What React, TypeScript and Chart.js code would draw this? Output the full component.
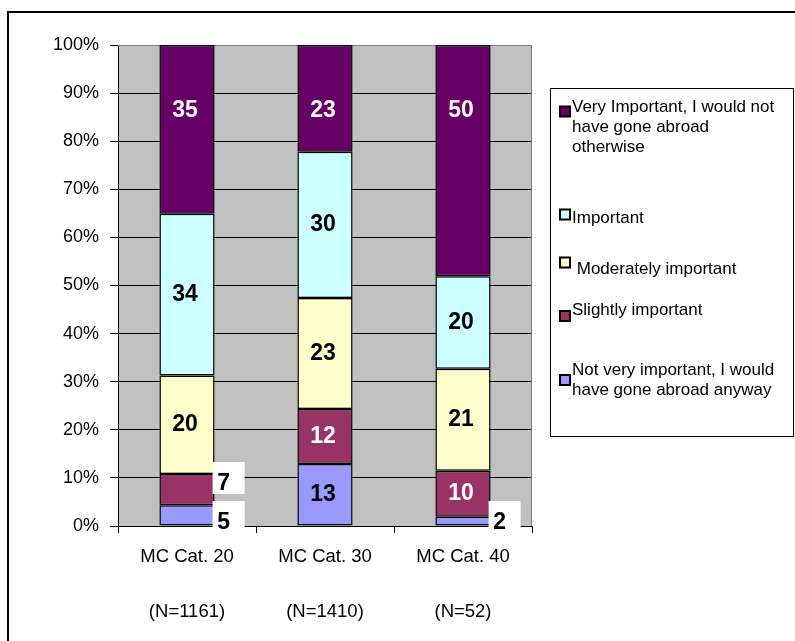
import React, { useEffect, useRef } from 'react';
import { Chart, registerables } from 'chart.js';

Chart.register(...registerables);

// ---------- data ----------
const categories = ['MC Cat. 20', 'MC Cat. 30', 'MC Cat. 40'];
const sampleSizes = ['(N=1161)', '(N=1410)', '(N=52)'];

// series, bottom of stack to top (percent of respondents)
const notVeryImportant = [4.3, 12.9, 1.9];
const slightlyImportant = [6.5, 11.4, 9.6];
const moderatelyImportant = [20.5, 23.1, 21.2];
const important = [33.6, 30.4, 19.2];
const veryImportant = [35.1, 22.2, 48.1];

// data labels as printed on the chart
const notVeryLabels = ['5', '13', '2'];
const slightlyLabels = ['7', '12', '10'];
const moderatelyLabels = ['20', '23', '21'];
const importantLabels = ['34', '30', '20'];
const veryLabels = ['35', '23', '50'];

const yTickValues = [0, 10, 20, 30, 40, 50, 60, 70, 80, 90, 100];

const legendVery = ['Very Important, I would not', 'have gone abroad', 'otherwise'];
const legendImportant = ['Important'];
const legendModerately = [' Moderately important'];
const legendSlightly = ['Slightly important'];
const legendNotVery = ['Not very important, I would', 'have gone abroad anyway'];

// ---------- styles ----------
const FONT = '"Liberation Sans", Arial, Helvetica, sans-serif';
const COLORS = {
  notVery: '#9999FF',
  slightly: '#993366',
  moderately: '#FFFFCC',
  important: '#CCFFFF',
  very: '#660066',
};

const datasetsSpec = [
  { name: 'Not very important, I would have gone abroad anyway', data: notVeryImportant, labels: notVeryLabels, color: COLORS.notVery, textColor: '#000' },
  { name: 'Slightly important', data: slightlyImportant, labels: slightlyLabels, color: COLORS.slightly, textColor: '#fff' },
  { name: 'Moderately important', data: moderatelyImportant, labels: moderatelyLabels, color: COLORS.moderately, textColor: '#000' },
  { name: 'Important', data: important, labels: importantLabels, color: COLORS.important, textColor: '#000' },
  { name: 'Very Important, I would not have gone abroad otherwise', data: veryImportant, labels: veryLabels, color: COLORS.very, textColor: '#fff' },
];

// legend layout (top-to-bottom): marker center y, first text line center y
const legendItems = [
  { lines: legendVery, color: COLORS.very, markerY: 111.5, textY: 107 },
  { lines: legendImportant, color: COLORS.important, markerY: 214.5, textY: 218 },
  { lines: legendModerately, color: COLORS.moderately, markerY: 262.5, textY: 269 },
  { lines: legendSlightly, color: COLORS.slightly, markerY: 316, textY: 310 },
  { lines: legendNotVery, color: COLORS.notVery, markerY: 380, textY: 370 },
];

const decorPlugin = {
  id: 'decor',
  beforeDraw(chart: any) {
    const { ctx, chartArea: a } = chart;
    ctx.save();
    ctx.fillStyle = '#ffffff';
    ctx.fillRect(0, 0, chart.width, chart.height);
    ctx.fillStyle = '#C0C0C0';
    ctx.fillRect(a.left, a.top, a.right - a.left, a.bottom - a.top);
    ctx.restore();
  },
  beforeDatasetsDraw(chart: any) {
    const { ctx, chartArea: a } = chart;
    ctx.save();
    ctx.strokeStyle = '#808080';
    ctx.lineWidth = 1;
    ctx.beginPath();
    ctx.moveTo(a.left, a.top + 0.5);
    ctx.lineTo(a.right - 0.5, a.top + 0.5);
    ctx.lineTo(a.right - 0.5, a.bottom);
    ctx.stroke();
    ctx.restore();
  },
  afterDatasetsDraw(chart: any) {
    const { ctx, chartArea: a } = chart;
    ctx.save();
    ctx.font = `bold 23px ${FONT}`;
    ctx.textAlign = 'center';
    ctx.textBaseline = 'middle';
    const nSets = chart.data.datasets.length;
    const nCats = chart.data.labels.length;
    for (let c = 0; c < nCats; c++) {
      let nextBoxTop = Infinity;
      const outside: any[] = [];
      for (let d = 0; d < nSets; d++) {
        const spec = datasetsSpec[d];
        const el = chart.getDatasetMeta(d).data[c];
        const top = Math.min(el.y, el.base);
        const bottom = Math.max(el.y, el.base);
        const mid = (top + bottom) / 2;
        const value = spec.data[c];
        if (value < 8) {
          outside.push({ el, mid, text: spec.labels[c] });
          continue;
        }
        const y = d === nSets - 1 ? top + 66 : mid;
        ctx.fillStyle = spec.textColor;
        ctx.fillText(spec.labels[c], el.x - 2, y);
      }
      // outside labels in white boxes to the right of the bar
      outside.sort((p, q) => q.mid - p.mid);
      for (const o of outside) {
        let boxTop = Math.min(o.mid - 14, a.bottom - 25);
        if (boxTop + 39 > nextBoxTop) boxTop = nextBoxTop - 39;
        nextBoxTop = boxTop;
        const boxLeft = o.el.x + o.el.width / 2 - 2;
        ctx.fillStyle = '#ffffff';
        ctx.fillRect(boxLeft, boxTop, 32, 32);
        ctx.fillStyle = '#000';
        ctx.fillText(o.text, boxLeft + 11, boxTop + 22);
      }
    }
    ctx.restore();
  },
  afterDraw(chart: any) {
    const { ctx } = chart;
    ctx.save();
    // outer frame
    ctx.strokeStyle = '#000';
    ctx.lineWidth = 2;
    ctx.strokeRect(8, 12, 900, 900);
    // legend box
    ctx.lineWidth = 1;
    ctx.strokeRect(550.5, 88.5, 243, 348);
    ctx.font = `17px ${FONT}`;
    ctx.textAlign = 'left';
    ctx.textBaseline = 'middle';
    for (const item of legendItems) {
      ctx.fillStyle = item.color;
      ctx.fillRect(560, item.markerY - 5, 10, 10);
      ctx.lineWidth = 2;
      ctx.strokeStyle = '#000';
      ctx.strokeRect(560, item.markerY - 5, 10, 10);
      ctx.fillStyle = '#000';
      item.lines.forEach((ln, i) => {
        ctx.fillText(ln, 572, item.textY + i * 20);
      });
    }
    ctx.restore();
  },
};

export default function App() {
  const ref = useRef<HTMLCanvasElement | null>(null);
  useEffect(() => {
    if (!ref.current) return;
    const chart = new Chart(ref.current, {
      type: 'bar',
      data: {
        labels: categories.map((c, i) => [c, sampleSizes[i]]),
        datasets: datasetsSpec.map((s) => ({
          label: s.name,
          data: s.data,
          backgroundColor: s.color,
          borderColor: '#000',
          borderWidth: 1.5,
          borderSkipped: false,
          categoryPercentage: 1,
          barPercentage: 0.4,
        })),
      },
      options: {
        responsive: false,
        animation: false,
        devicePixelRatio: 1,
        layout: { padding: { top: 45, right: 263, left: 0, bottom: 0 } },
        plugins: {
          legend: { display: false },
          title: { display: false },
          tooltip: { enabled: false },
        },
        scales: {
          x: {
            stacked: true,
            grid: { display: true, drawOnChartArea: false, drawTicks: true, tickLength: 7, color: '#000' },
            border: { display: true, color: '#000', width: 1 },
            ticks: {
              color: '#000',
              font: { family: FONT, size: 18.5, lineHeight: '55px' },
              padding: -3.5,
              maxRotation: 0,
              autoSkip: false,
            },
            afterFit(scale: any) {
              scale.height = 115;
            },
          },
          y: {
            stacked: true,
            min: 0,
            max: 100,
            afterBuildTicks(scale: any) {
              scale.ticks = yTickValues.map((v) => ({ value: v }));
            },
            grid: {
              color: (c: any) => (c.tick && c.tick.value === 100 ? '#808080' : '#000'),
              tickColor: '#000',
              tickLength: 8,
              lineWidth: 1,
            },
            border: { display: true, color: '#000', width: 1 },
            ticks: {
              color: '#000',
              font: { family: FONT, size: 18 },
              padding: 11,
              callback: (v: any) => `${v}%`,
            },
            afterFit(scale: any) {
              scale.width = 118;
            },
          },
        },
      },
      plugins: [decorPlugin],
    });
    return () => chart.destroy();
  }, []);
  return (
    <div style={{ position: 'fixed', left: 0, top: 0, width: 795, height: 641, background: '#fff' }}>
      <canvas ref={ref} width={795} height={641} style={{ display: 'block' }} />
    </div>
  );
}
